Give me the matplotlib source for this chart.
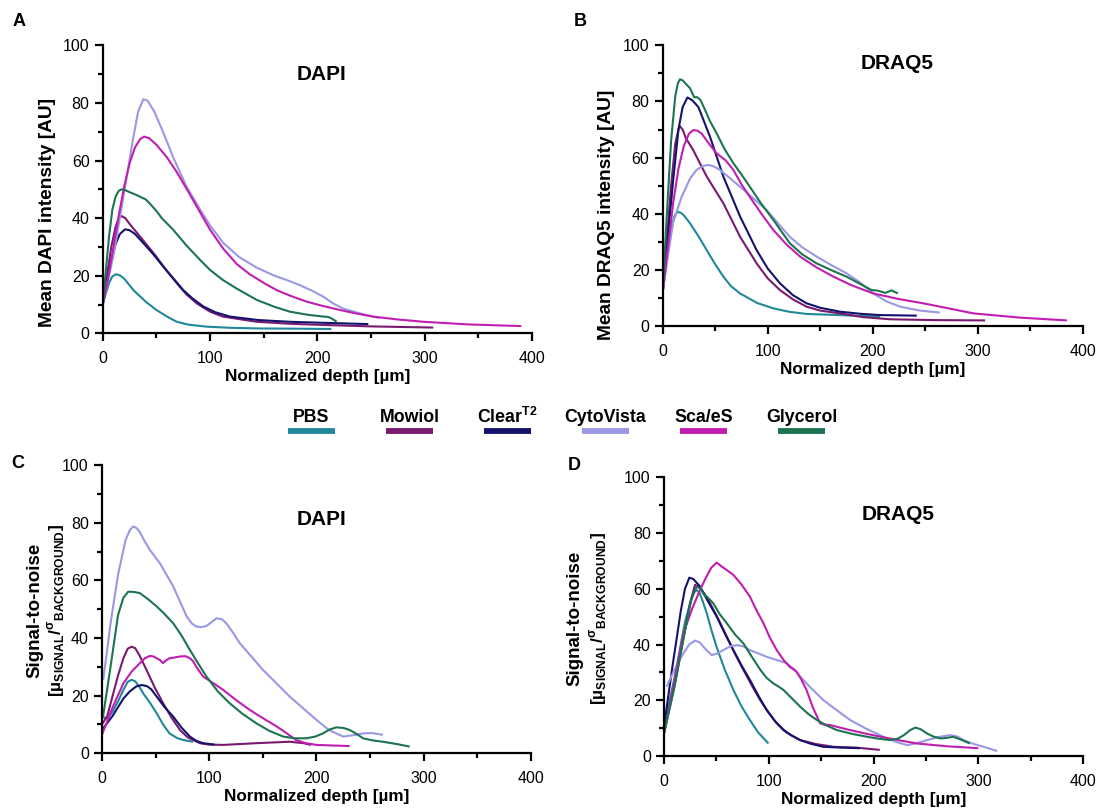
import matplotlib
matplotlib.use("Agg")
import matplotlib.pyplot as plt
from matplotlib.lines import Line2D
from matplotlib.ticker import MultipleLocator

plt.rcParams['font.family'] = ['Liberation Sans', 'DejaVu Sans']
plt.rcParams['mathtext.fontset'] = 'custom'
plt.rcParams['mathtext.rm'] = 'Liberation Sans'
plt.rcParams['mathtext.bf'] = 'Liberation Sans:bold'

series_names = ['PBS', 'Mowiol', 'Clear$^{\\mathregular{T2}}$', 'CytoVista', 'Sca/eS', 'Glycerol']
series_colors = ['#21889a', '#7a1a6e', '#13136e', '#9a98e4', '#c01eb0', '#1c7450']

# ---------------- Panel A: DAPI mean intensity ----------------
a_pbs_x = [0, 3, 6, 9, 12.4, 16, 20, 28.6, 40, 50, 60, 69, 80, 97, 120, 143.5, 180, 213]
a_pbs_y = [10, 14, 17.5, 19.8, 20.5, 20.1, 19, 15, 11, 8.1, 5.8, 4, 3.0, 2.3, 1.9, 1.7, 1.6, 1.5]
a_mow_x = [0, 4, 8, 12, 15, 17.7, 21, 25, 34.8, 50, 60, 69, 78, 87.6, 100, 112, 143.5, 175, 205.6, 250, 308]
a_mow_y = [10, 20, 30, 37, 40, 40.7, 40, 38, 33.6, 26.6, 21.5, 17.4, 13.5, 10.4, 7.5, 5.8, 4.0, 3.3, 2.9, 2.4, 2.0]
a_clr_x = [0, 4, 8, 12, 16, 20.8, 25, 30, 37.9, 47, 56.5, 66, 75, 84, 93.8, 105, 118.6, 145, 174.5, 210, 247.5]
a_clr_y = [10, 18, 25.5, 31, 34.5, 36.1, 35.8, 34.5, 31.3, 27.5, 23.1, 19, 15, 12, 9.3, 7.3, 5.8, 4.6, 4.0, 3.6, 3.2]
a_cyt_x = [0, 10, 20, 28, 33, 37.9, 42, 48, 55, 65.8, 78, 90.7, 100, 112, 127, 143.5, 160, 175, 185, 195, 205.6, 215, 224, 235, 246, 258]
a_cyt_y = [10, 27, 49, 67, 77, 81.3, 80.7, 77, 71, 61, 51, 43, 37.5, 31.5, 26.5, 22.8, 20, 18, 16.5, 14.8, 12.7, 10.3, 8.6, 7.4, 6.3, 5.3]
a_sca_x = [0, 5, 10, 15, 20, 25, 30, 35, 38.5, 43, 50, 60, 69, 80, 90.7, 100, 112, 125, 137, 150, 162, 175, 190, 205, 221, 236, 252, 275, 299, 340, 390]
a_sca_y = [10, 19, 30, 41, 51, 59, 64.5, 67.5, 68.3, 67.8, 65.5, 61, 56, 49, 42, 36, 29.5, 24, 20.5, 17.5, 15, 13, 11, 9.5, 8.1, 6.9, 5.8, 4.8, 4.0, 3.1, 2.5]
a_gly_x = [0, 3, 6, 9, 12, 15, 17.7, 21, 25, 31.7, 36, 40, 44, 50, 55, 65.8, 78, 90.7, 100, 112, 125, 143.5, 160, 174.5, 190, 205.6, 210, 214, 218]
a_gly_y = [10, 22, 34, 43, 47.5, 49.5, 50, 49.7, 49, 48, 47.2, 46.5, 45, 42.5, 40, 35.9, 30.5, 25.5, 22, 18.5, 15.5, 11.6, 9.2, 7.5, 6.5, 5.8, 5.7, 5.0, 4.0]

# ---------------- Panel B: DRAQ5 mean intensity ----------------
b_pbs_x = [0, 4, 8, 11, 14, 17, 20, 26, 34, 42, 50, 57.8, 65, 73.7, 90, 105.4, 120, 137, 169, 207]
b_pbs_y = [12, 24, 34, 39, 40.7, 40.4, 39.5, 36.6, 32, 27, 22, 17.6, 14.2, 11.6, 8.2, 6.3, 5.1, 4.3, 3.9, 3.3]
b_mow_x = [0, 4, 8, 12, 15.9, 19, 22, 29, 42, 57.8, 73.7, 89.5, 100, 111.7, 124, 137, 150, 169, 190, 216.5, 260, 307]
b_mow_y = [12, 31, 50, 65, 71.4, 70, 67, 62.7, 53.2, 43.7, 31.8, 22.3, 17, 12.8, 9.5, 6.9, 5.5, 4.5, 3.2, 2.4, 2.1, 2.0]
b_clr_x = [0, 5, 10, 15, 19, 23.5, 28, 34, 45, 57.8, 73.7, 89.5, 100, 111.7, 124, 137, 150, 169, 190, 207, 225, 242]
b_clr_y = [12, 32, 52, 70, 78, 81.4, 80.5, 78, 67.5, 53.2, 39, 27, 20.5, 15.2, 11, 8.1, 6.5, 5.1, 4.3, 3.9, 3.8, 3.7]
b_cyt_x = [0, 5, 10, 18, 26, 32, 38, 43.5, 49, 54.6, 63, 73.7, 86, 99, 110, 121, 133, 146.7, 160, 175, 188, 200.6, 213, 226, 245, 264]
b_cyt_y = [12, 25, 37, 46, 52.5, 55.5, 57, 57.4, 56.8, 55.6, 53, 49.6, 45.6, 41.3, 36.5, 31.8, 28, 24.7, 21.8, 18.8, 15.5, 11.6, 8.8, 6.9, 5.5, 4.8]
b_sca_x = [0, 5, 10, 15, 20, 25, 29, 33, 37, 44, 51.4, 60, 67.3, 75, 83, 94, 105.4, 118, 131, 146, 162.5, 180, 200.6, 225, 248, 272, 296, 340, 385]
b_sca_y = [12, 28, 44, 56, 64, 68.5, 69.8, 69.6, 68.6, 65, 61.5, 59, 55.6, 50.5, 46, 40, 34.2, 29, 24.7, 21, 17.6, 14.5, 11.6, 9.6, 8.1, 6.3, 4.5, 3.0, 2.0]
b_gly_x = [0, 4, 8, 12, 14.5, 16.5, 19, 22, 26, 30, 33, 36, 40.3, 45, 51.4, 59, 67.3, 75, 83, 94, 105.4, 121, 133, 146.7, 160, 175, 187, 199, 205, 212, 218, 224]
b_gly_y = [12, 40, 66, 82, 86.5, 87.9, 87.5, 86.3, 84.7, 81.5, 81.5, 80.5, 77, 73, 68.6, 63, 58, 54, 49.6, 43.5, 37.8, 29.5, 25.5, 22.3, 20, 17.6, 15.2, 12.8, 12.6, 11.8, 12.7, 11.6]

# ---------------- Panel C: DAPI signal-to-noise ----------------
c_pbs_x = [0, 5, 10, 15, 20, 24, 27.6, 31, 35, 38.5, 45, 51, 57, 63, 70, 75.8, 85]
c_pbs_y = [12.7, 12, 14.5, 18, 22, 24.8, 25.5, 25, 23, 20.8, 17.4, 13.9, 10, 6.9, 5.3, 4.6, 4.0]
c_mow_x = [0, 5, 10, 15, 20, 24, 27.6, 31, 35, 41.6, 49, 57, 65, 72.7, 80, 91.3, 100, 113, 144, 175, 188, 195]
c_mow_y = [10, 13, 20, 27, 33, 36.3, 37, 36.5, 34, 28.9, 23, 17.4, 12.3, 8.1, 5.5, 3.5, 3.0, 2.9, 3.5, 4.0, 3.5, 2.9]
c_clr_x = [0, 10, 20, 26, 32, 37, 42, 46, 51, 58, 66.5, 74, 82, 88, 94.4, 105]
c_clr_y = [8.1, 13, 19, 21.5, 23.2, 23.7, 23.3, 22.2, 19.7, 16.2, 12.7, 9, 5.8, 4.3, 3.5, 3.0]
c_cyt_x = [1.2, 8, 15, 22, 26, 29, 32, 35, 40, 44.7, 54, 66.5, 79, 84, 88, 93, 97.5, 102, 107, 112, 116, 122, 128.6, 150, 175, 200, 212, 225, 235, 243.5, 252, 262]
c_cyt_y = [25.5, 45, 62, 74, 77.5, 78.7, 78.3, 77, 73.5, 70.6, 66, 57.9, 47.5, 45, 44, 43.8, 44.2, 45.5, 46.9, 46.5, 45.1, 42, 38.2, 29, 19.7, 11.6, 8, 5.8, 6.3, 6.9, 7.0, 6.4]
c_sca_x = [0, 10, 20, 28, 35.4, 40, 44.7, 48, 51, 54, 57, 60, 63, 67, 72.7, 78, 82, 85, 88, 94.4, 104, 113, 125, 138, 150, 163, 172, 181, 190, 200, 215, 231]
c_sca_y = [6.4, 16, 24.3, 28.5, 31.3, 33, 33.8, 33.6, 33, 32.4, 31.3, 32.3, 33, 33.2, 33.6, 33.7, 33, 32, 30, 26.6, 24.3, 22, 18.5, 15, 12.2, 9.3, 7, 4.6, 3.5, 2.9, 2.7, 2.5]
c_gly_x = [1, 8, 15, 20, 24.5, 30, 35.4, 43, 51, 58, 66.5, 74, 82, 90, 97.5, 108, 119, 131, 144, 156, 169, 180, 190.7, 199, 206, 212, 218.6, 225, 231, 237, 243.5, 252, 262, 275, 287]
c_gly_y = [12.7, 30, 48, 54, 56.1, 56, 55.6, 53.5, 51, 48.5, 45.1, 41, 35.9, 31, 26.6, 21.5, 17.4, 13.7, 10.4, 7.8, 5.8, 5.2, 5.2, 5.8, 6.9, 8.2, 9, 8.8, 8.1, 6.8, 5.2, 4.5, 4.0, 3.2, 2.3]

# ---------------- Panel D: DRAQ5 signal-to-noise ----------------
d_pbs_x = [0, 10, 20, 25, 28, 31, 34, 37, 41, 45, 50.3, 58, 66.2, 74, 82, 90, 99.7]
d_pbs_y = [10.5, 28, 48, 55, 58.5, 59.6, 58.5, 55.5, 51, 45.5, 39, 31, 23.7, 17.8, 12.9, 8.4, 4.5]
d_mow_x = [0, 10, 20, 25, 29.6, 34, 39, 44, 52, 60, 68, 75.8, 84, 91.7, 100, 107.6, 118, 130, 145, 162, 184, 206]
d_mow_y = [8.1, 25, 45, 55, 61.4, 60.5, 58, 54.8, 49, 42.8, 36.5, 30.9, 25.2, 20.1, 15.5, 11.7, 8.2, 5.7, 4.3, 3.3, 3.0, 2.2]
d_clr_x = [0, 8, 16, 20, 24.2, 28, 34.4, 42, 50.3, 58, 66.2, 74, 82, 90, 98, 106, 114, 122, 130, 140, 152, 170, 187]
d_clr_y = [10.5, 32, 52, 60, 64, 63.5, 60.8, 55.5, 50, 44, 38, 32.5, 27.3, 21.7, 16.5, 12.5, 9.3, 7.3, 5.7, 4.4, 3.3, 3.0, 2.8]
d_cyt_x = [2.5, 10, 18.5, 24, 29.6, 34, 40, 45.5, 51, 56.7, 63, 69.4, 76, 82, 98, 117, 124, 130, 140, 152, 165, 177.7, 193, 209.5, 222, 232, 241, 251, 262, 273, 280, 286, 295, 305, 318]
d_cyt_y = [24.9, 31, 36.8, 40, 41.4, 40.8, 38.2, 36.2, 36.8, 38, 39.3, 39.8, 39.3, 38, 35.6, 33.3, 31.2, 28.5, 24.5, 20.1, 16.4, 12.9, 9.8, 6.9, 5, 3.9, 4.6, 5.7, 6.8, 7.5, 7, 5.7, 4.4, 3.3, 1.8]
d_sca_x = [0, 10, 18.5, 27, 34.4, 40, 45, 50.3, 55, 60, 66.2, 74, 82, 88, 95, 101, 107.6, 114, 120, 126.4, 131, 136, 142, 149, 153, 158.6, 168, 177.7, 193, 209.5, 225, 241.4, 270, 300]
d_sca_y = [8.1, 27, 44, 53, 59.6, 64, 67.5, 69.4, 68, 66.7, 65, 61.5, 57.2, 52.5, 47.6, 42.5, 38, 34.5, 32, 30.3, 27.5, 23.7, 17.5, 11.7, 11.3, 11.1, 10.2, 9.3, 8, 6.7, 5.6, 4.5, 3.5, 2.8]
d_gly_x = [0, 10, 20, 26, 31, 35, 38, 42, 47, 53, 60, 68, 75.8, 84, 92, 98, 104.5, 109, 114, 122, 130, 138, 146, 155, 165, 180, 194, 205, 216, 223, 229, 235, 240, 245, 251, 257, 264, 270, 276, 284, 292]
d_gly_y = [8.1, 25, 45, 56, 60.8, 60, 58, 56.8, 54.8, 51, 47.6, 43.5, 40.4, 35.5, 30.9, 28, 26, 25, 23.7, 20.7, 17.7, 15, 12.9, 11, 9.3, 7.9, 6.9, 6.2, 5.7, 6.2, 7.5, 9.3, 10.2, 9.6, 8.1, 7, 6.3, 6.5, 6.9, 5.8, 4.5]

panel_titles = ['DAPI', 'DRAQ5', 'DAPI', 'DRAQ5']
panel_letters = ['A', 'B', 'C', 'D']
x_ticks = [0, 100, 200, 300, 400]
y_ticks = [0, 20, 40, 60, 80, 100]

fig = plt.figure(figsize=(11.01, 8.09), dpi=100)

axes_rects = [
    [0.0933, 0.588, 0.3899, 0.356],
    [0.6019, 0.597, 0.3815, 0.347],
    [0.0926, 0.0689, 0.3896, 0.356],
    [0.6031, 0.0655, 0.3806, 0.3445],
]
panel_data = [
    [(a_pbs_x, a_pbs_y), (a_mow_x, a_mow_y), (a_clr_x, a_clr_y), (a_cyt_x, a_cyt_y), (a_sca_x, a_sca_y), (a_gly_x, a_gly_y)],
    [(b_pbs_x, b_pbs_y), (b_mow_x, b_mow_y), (b_clr_x, b_clr_y), (b_cyt_x, b_cyt_y), (b_sca_x, b_sca_y), (b_gly_x, b_gly_y)],
    [(c_pbs_x, c_pbs_y), (c_mow_x, c_mow_y), (c_clr_x, c_clr_y), (c_cyt_x, c_cyt_y), (c_sca_x, c_sca_y), (c_gly_x, c_gly_y)],
    [(d_pbs_x, d_pbs_y), (d_mow_x, d_mow_y), (d_clr_x, d_clr_y), (d_cyt_x, d_cyt_y), (d_sca_x, d_sca_y), (d_gly_x, d_gly_y)],
]
title_pos = [(204, 90), (223, 93.5), (205, 81), (223, 86.5)]

for i in range(4):
    ax = fig.add_axes(axes_rects[i])
    for (xs, ys), col in zip(panel_data[i], series_colors):
        ax.plot(xs, ys, color=col, lw=1.5, solid_capstyle='butt', solid_joinstyle='round')
    ax.set_xlim(0, 400)
    ax.set_ylim(0, 100)
    ax.set_xticks(x_ticks)
    ax.set_yticks(y_ticks)
    ax.xaxis.set_minor_locator(MultipleLocator(50))
    ax.yaxis.set_minor_locator(MultipleLocator(10))
    for s in ['top', 'right']:
        ax.spines[s].set_visible(False)
    for s in ['left', 'bottom']:
        ax.spines[s].set_linewidth(1.6)
    ax.tick_params(which='major', length=6, width=1.6, labelsize=11.5, direction='out')
    ax.tick_params(axis='x', which='major', pad=7)
    ax.tick_params(axis='y', which='major', pad=3.5)
    ax.tick_params(which='minor', length=3.5, width=1.6, direction='out')
    ax.set_xlabel('Normalized depth [µm]', fontsize=12.3, fontweight='bold', labelpad=2)
    ax.text(title_pos[i][0], title_pos[i][1], panel_titles[i], fontsize=15, fontweight='bold',
            ha='center', va='center')

# y labels
fig.text(0.0427, 0.737, 'Mean DAPI intensity [AU]', rotation=90, ha='center', va='center',
         fontsize=13.8, fontweight='bold')
fig.text(0.551, 0.734, 'Mean DRAQ5 intensity [AU]', rotation=90, ha='center', va='center',
         fontsize=13.8, fontweight='bold')
snr2 = '[µ$_{\\mathregular{SIGNAL}}$/$^{\\mathregular{σ}}$$_{\\mathregular{BACKGROUND}}$]'
fig.text(35 / 1101, 0.245, 'Signal-to-noise', rotation=90, ha='center', va='center',
         fontsize=13.5, fontweight='bold')
fig.text(56 / 1101, 0.245, snr2, rotation=90, ha='center', va='center',
         fontsize=12.5, fontweight='bold')
fig.text(575 / 1101, 0.236, 'Signal-to-noise', rotation=90, ha='center', va='center',
         fontsize=13.5, fontweight='bold')
fig.text(598 / 1101, 0.236, snr2, rotation=90, ha='center', va='center',
         fontsize=12.5, fontweight='bold')

# panel letters
letter_pos = [(0.0173, 0.974), (0.527, 0.974), (0.0163, 0.4265), (0.522, 0.424)]
for (lx, ly), lt in zip(letter_pos, panel_letters):
    fig.text(lx, ly, lt, fontsize=13, fontweight='bold', ha='center', va='center')

# legend row
bar_left = 288
bar_step = 98
bar_w = 47
for k, (name, col) in enumerate(zip(series_names, series_colors)):
    x0 = (bar_left + k * bar_step) / 1101
    x1 = (bar_left + k * bar_step + bar_w) / 1101
    xc = (x0 + x1) / 2
    fig.add_artist(Line2D([x0, x1], [0.4676, 0.4676], transform=fig.transFigure,
                          color=col, lw=4.2, solid_capstyle='butt'))
    fig.text(xc, 0.4845, name, ha='center', va='center', fontsize=12.8, fontweight='bold')

fig.savefig('out.png', dpi=100)
